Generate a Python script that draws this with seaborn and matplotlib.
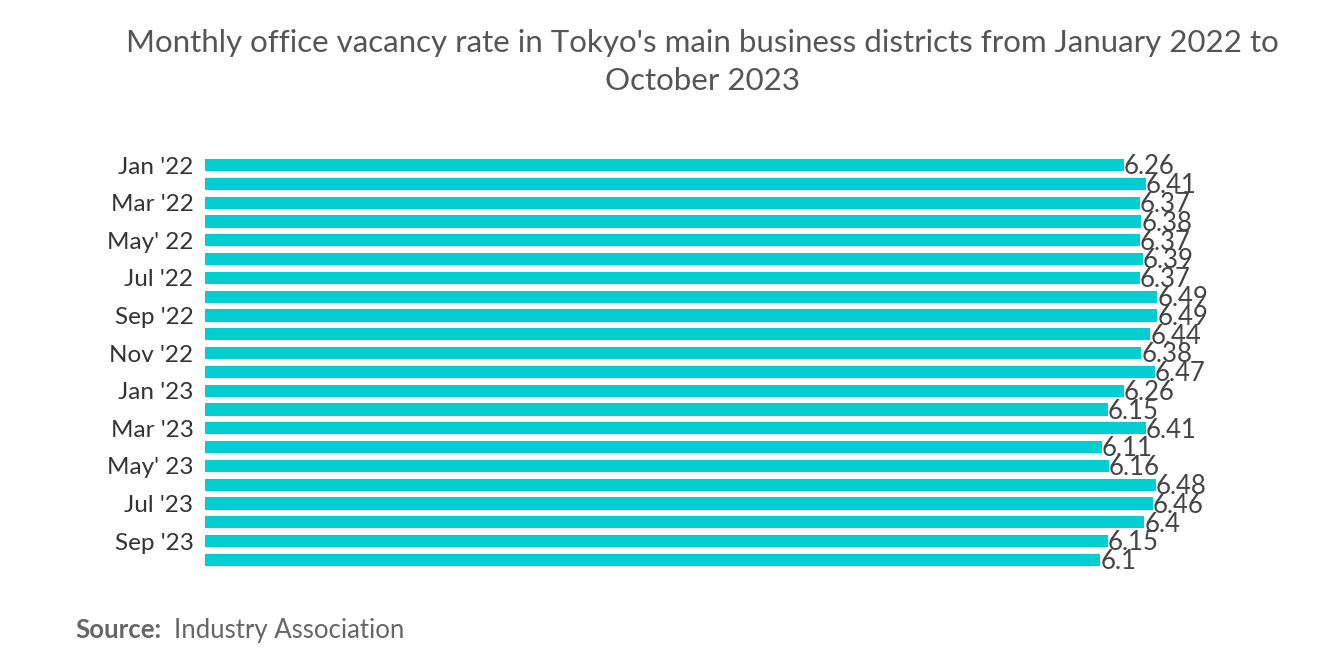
import matplotlib
matplotlib.use("Agg")
import matplotlib.pyplot as plt
import seaborn as sns
import pandas as pd

months = ["Jan '22", "Feb '22", "Mar '22", "Apr '22", "May' 22", "Jun '22", "Jul '22", "Aug '22",
          "Sep '22", "Oct '22", "Nov '22", "Dec '22", "Jan '23", "Feb '23", "Mar '23", "Apr '23",
          "May' 23", "Jun '23", "Jul '23", "Aug '23", "Sep '23", "Oct '23"]
rates = [6.26, 6.41, 6.37, 6.38, 6.37, 6.39, 6.37, 6.49, 6.49, 6.44, 6.38, 6.47,
         6.26, 6.15, 6.41, 6.11, 6.16, 6.48, 6.46, 6.4, 6.15, 6.1]

df = pd.DataFrame({"month": months, "rate": rates})

plt.rcParams["font.family"] = "Lato"
fig = plt.figure(figsize=(13.2, 6.65), dpi=100)
ax = fig.add_axes([0.155, 0.144, 0.822, 0.622])

sns.barplot(data=df, x="rate", y="month", color="#00CED1", width=0.65,
            saturation=1, ax=ax, orient="h")

# value labels sit at the bar ends, overlapping as in the original
for i, v in enumerate(rates):
    ax.text(v, i + 0.1, f"{v:g}", va="center", ha="left", fontsize=18.5, color="#444444")

ax.set_xlim(0, 7.39)
ax.set_ylim(21.5, -0.5)
ax.set_yticks(range(0, 22, 2))
ax.set_yticklabels(months[::2], fontsize=17.5, color="#333333")
ax.tick_params(axis="y", length=0, pad=8)
ax.set_xticks([])
ax.set_xlabel("")
ax.set_ylabel("")
for s in ax.spines.values():
    s.set_visible(False)

fig.text(0.532, 0.957, "Monthly office vacancy rate in Tokyo's main business districts from January 2022 to\nOctober 2023",
         ha="center", va="top", fontsize=22.5, color="#555555", linespacing=1.45)
fig.text(0.057, 0.04, "Source:", fontsize=18.5, color="#666666", fontweight="bold")
fig.text(0.132, 0.04, "Industry Association", fontsize=18.5, color="#666666")

fig.savefig("out.png", dpi=100)
